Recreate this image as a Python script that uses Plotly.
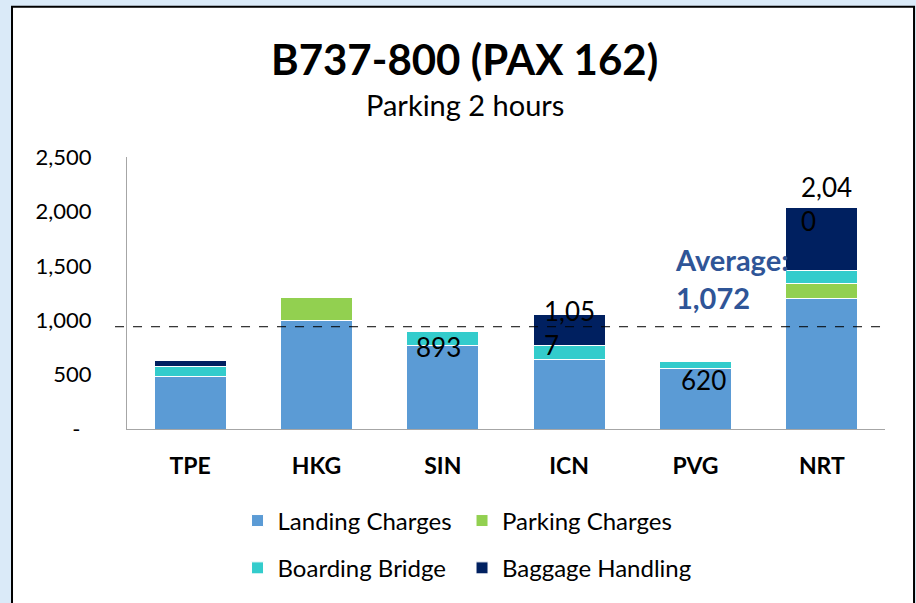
import plotly.graph_objects as go

airports = ["TPE", "HKG", "SIN", "ICN", "PVG", "NRT"]
landing = [480, 1000, 766, 642, 555, 1200]
parking = [0, 205, 0, 0, 0, 135]
boarding = [95, 0, 127, 128, 65, 118]
baggage = [52, 0, 0, 287, 0, 587]

series_names = ["Landing Charges", "Parking Charges", "Boarding Bridge", "Baggage Handling"]
series_values = [landing, parking, boarding, baggage]
series_colors = ["#5B9BD5", "#92D050", "#33CCCC", "#002060"]
series_legend = ["legend", "legend2", "legend3", "legend4"]

y_tickvals = [0, 500, 1000, 1500, 2000, 2500]
y_ticktext = ["-\u00a0\u00a0", "500", "1,000", "1,500", "2,000", "2,500"]

# labelled totals
label_airports = ["SIN", "ICN", "PVG", "NRT"]
label_wrapped = [False, True, False, True]
label_xshift = [-4, -27, 8, -23]
label_yshift = [-15, -14, -18, 3]

avg_line_y = 940
avg_value = 1072

FONT = "Lato"

fig = go.Figure()
for name, vals, col, lg in zip(series_names, series_values, series_colors, series_legend):
    fig.add_trace(go.Bar(
        x=airports, y=vals, name=name, legend=lg,
        marker=dict(color=col, line=dict(color="white", width=1)),
    ))

totals = [sum(v[i] for v in series_values) for i in range(len(airports))]
annotations = []
for ap, wr, xs, ys in zip(label_airports, label_wrapped, label_xshift, label_yshift):
    tot = totals[airports.index(ap)]
    s = f"{tot:,}"
    if wr:
        s = s[:4] + "<br>" + s[4:]
    annotations.append(dict(
        x=ap, y=tot, xref="x", yref="y", text=s, showarrow=False,
        xanchor="left" if wr else "center", yanchor="middle", align="left",
        xshift=xs, yshift=ys, font=dict(family=FONT, size=26, color="black"),
    ))

annotations.append(dict(
    x=0.7203, y=0.5527, xref="paper", yref="paper",
    text=f"<b>Average:<br>{avg_value:,}</b>", showarrow=False,
    xanchor="left", yanchor="middle", align="left",
    font=dict(family=FONT, size=29, color="#2F5597"),
))
annotations.append(dict(
    x=0.4454, y=(432 - 104) / 275, xref="paper", yref="paper",
    text="Parking 2 hours", showarrow=False, xanchor="center", yanchor="middle",
    font=dict(family=FONT, size=29, color="black"),
))

shapes = [
    dict(type="rect", xref="paper", yref="paper", x0=-0.1517, x1=1.0383, y0=-0.7, y1=1.5527,
         fillcolor="white", line=dict(color="black", width=2), layer="below"),
    dict(type="line", xref="paper", yref="y", x0=-0.0158, x1=0.996, y0=avg_line_y, y1=avg_line_y,
         line=dict(color="black", width=1, dash="dash"), layer="above"),
]

legend_style = dict(orientation="h", xanchor="left", yanchor="middle",
                    bgcolor="rgba(0,0,0,0)", font=dict(family=FONT, size=24, color="black"))
col1_x, col2_x = 0.1458, 0.1458 + 224.5 / 758
row1_y, row2_y = -0.338, -0.512

fig.update_layout(
    width=916, height=603,
    margin=dict(l=127, r=31, t=157, b=171),
    paper_bgcolor="#DAEAF8", plot_bgcolor="rgba(0,0,0,0)",
    barmode="stack", bargap=0.43,
    title=dict(text="<b>B737-800 (PAX 162)</b>", x=0.4454, xref="paper", xanchor="center",
               y=1 - 60 / 603, yref="container", yanchor="middle",
               font=dict(family=FONT, size=42, color="black")),
    font=dict(family=FONT, color="black"),
    xaxis=dict(showline=True, linecolor="#A6A6A6", linewidth=1, showgrid=False, ticks="",
               tickfont=dict(family=FONT, size=23, color="black", weight="bold"),
               ticklabelstandoff=16, fixedrange=True),
    yaxis=dict(range=[0, 2500], showline=True, linecolor="#A6A6A6", linewidth=1, showgrid=False,
               zeroline=False, ticks="", tickvals=y_tickvals, ticktext=y_ticktext,
               tickfont=dict(family=FONT, size=22, color="black"), ticklabelstandoff=30),
    legend=dict(x=col1_x, y=row1_y, **legend_style),
    legend2=dict(x=col2_x, y=row1_y, **legend_style),
    legend3=dict(x=col1_x, y=row2_y, **legend_style),
    legend4=dict(x=col2_x, y=row2_y, **legend_style),
    annotations=annotations, shapes=shapes, showlegend=True,
)

fig.write_html("out.html", config={"displayModeBar": False},
               post_script="document.body.style.margin='0';")
